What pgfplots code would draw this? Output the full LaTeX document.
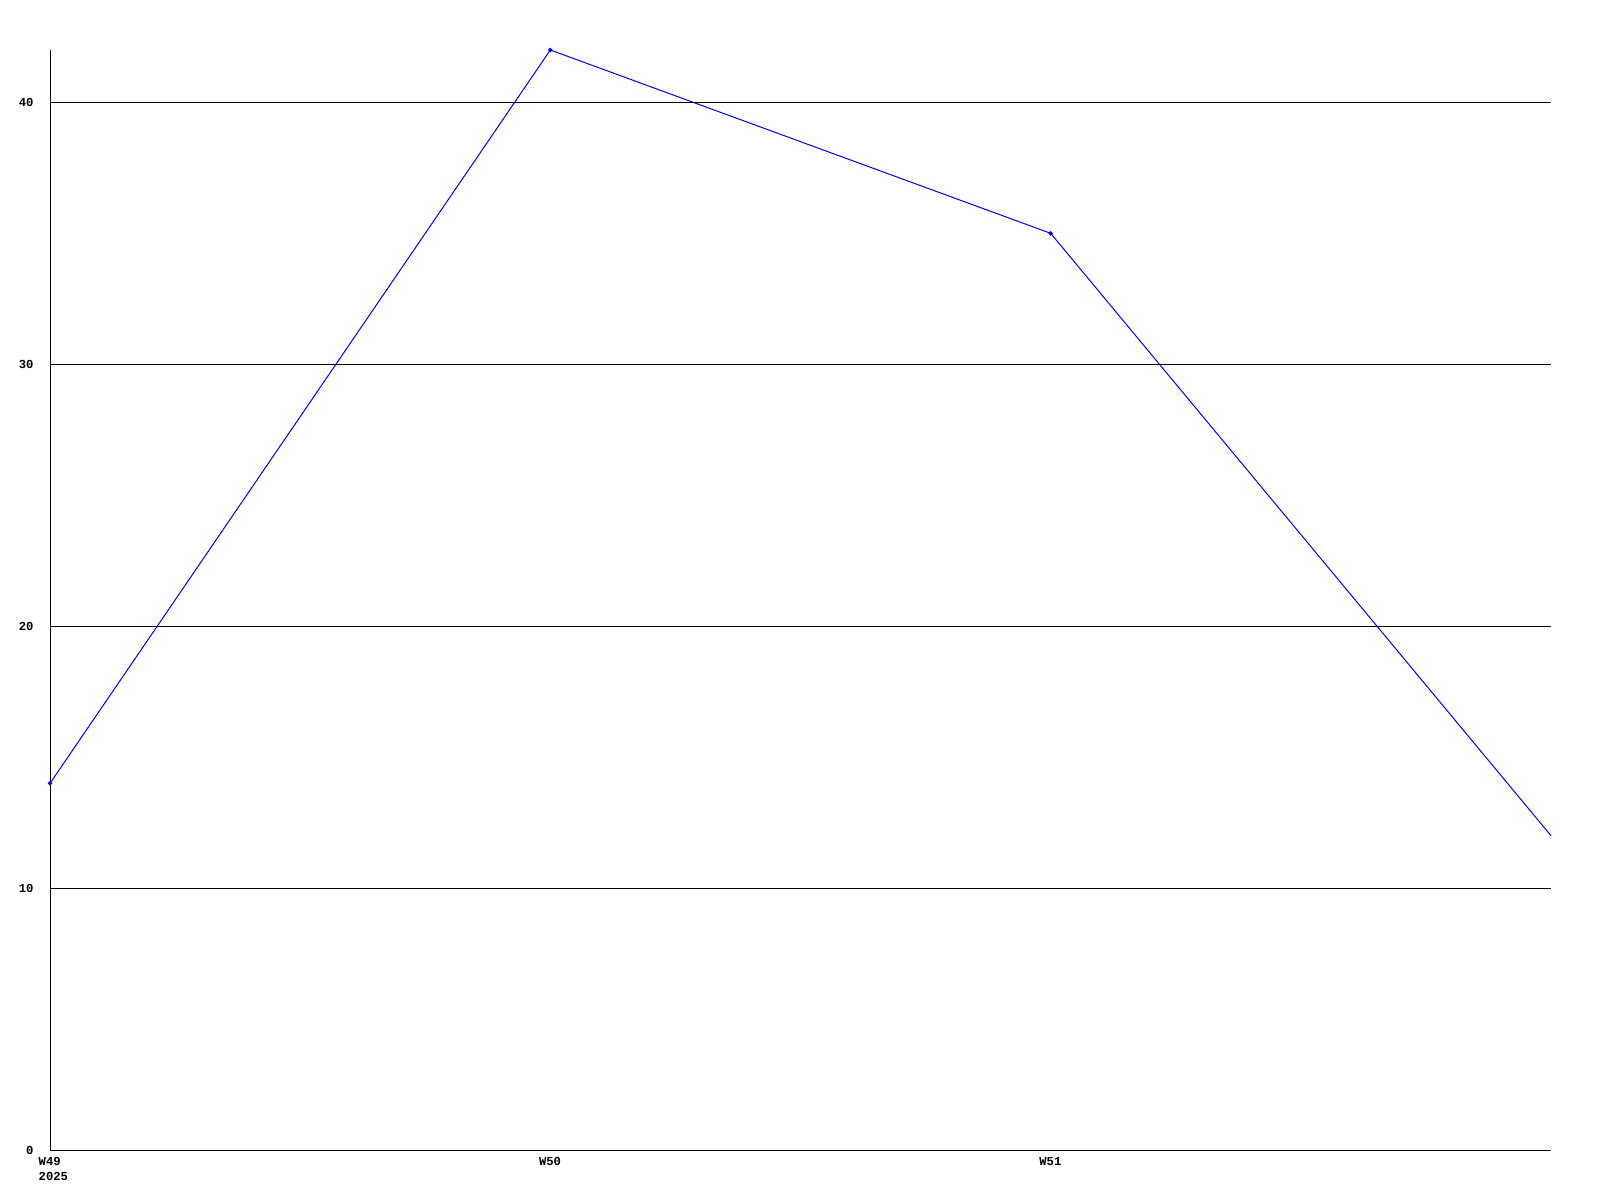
\documentclass[border=0pt]{standalone}
\usepackage{fontspec}
\setmainfont{Liberation Mono}
\usepackage{pgfplots}
\pgfplotsset{compat=1.18}
\begin{document}
\begin{tikzpicture}
\begin{axis}[
  scale only axis,
  width=540.36pt, height=396pt,
  xmin=0, xmax=3, ymin=0, ymax=42,
  axis x line*=bottom, axis y line*=left,
  axis line style={line width=0.36pt, -},
  xtick={0,1,2},
  xticklabels={{W49\\2025},{W50},{W51}},
  xticklabel style={align=left, anchor=north west, xshift=-7.6pt, yshift=1pt, font=\bfseries\fontsize{4.4}{5.4}\selectfont},
  ytick={0,10,20,30,40},
  yticklabel style={anchor=east, xshift=-2.4pt, font=\bfseries\fontsize{4.4}{5.4}\selectfont},
  /pgf/number format/assume math mode=true,
  major tick length=0pt,
  ymajorgrids,
  grid style={black, line width=0.36pt},
  tick style={draw=none},
  clip=false,
]
\addplot[color={rgb,255:red,0;green,0;blue,255}, line width=0.36pt, mark=*, mark size=0.6pt, mark indices={1,2,3}] coordinates {(0,14) (1,42) (2,35) (3,12)};
\useasboundingbox ([xshift=-18pt,yshift=-18pt]rel axis cs:0,0) rectangle ([xshift=17.64pt,yshift=18pt]rel axis cs:1,1);
\end{axis}
\end{tikzpicture}
\end{document}
